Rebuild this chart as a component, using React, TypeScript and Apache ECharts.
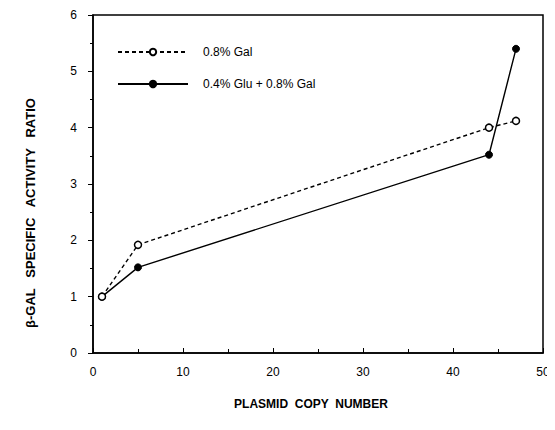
import React, { useEffect, useRef } from "react";
import * as echarts from "echarts";

const seriesNames = ["0.8% Gal", "0.4% Glu + 0.8% Gal"];
const copyNumbers = [1, 5, 44, 47];
const galRatio = [1.0, 1.92, 4.0, 4.12];
const gluGalRatio = [1.0, 1.52, 3.52, 5.4];
const xTitle = "PLASMID  COPY  NUMBER";
const yTitle = "β-GAL   SPECIFIC   ACTIVITY   RATIO";

const FONT = "'Liberation Sans', Arial, sans-serif";

export default function App() {
  const ref = useRef<HTMLDivElement>(null);
  useEffect(() => {
    if (!ref.current) return;
    const chart = echarts.init(ref.current, undefined, { renderer: "svg" });
    const toPairs = (ys: number[]) => copyNumbers.map((x, i) => [x, ys[i]]);
    chart.setOption({
      animation: false,
      backgroundColor: "#fff",
      textStyle: { fontFamily: FONT, color: "#000" },
      grid: {
        left: 93,
        right: 12,
        top: 15,
        bottom: 77,
        show: true,
        borderColor: "#000",
        borderWidth: 1.5,
        backgroundColor: "transparent",
      },
      graphic: [
        {
          type: "text",
          x: 30,
          y: 213,
          rotation: Math.PI / 2,
          style: {
            text: yTitle,
            fontFamily: FONT,
            fontSize: 13,
            fontWeight: "bold",
            fill: "#000",
            align: "center",
            verticalAlign: "middle",
          },
        },
      ],
      legend: {
        orient: "vertical",
        left: 112,
        top: 41,
        itemWidth: 70,
        itemHeight: 8,
        itemGap: 20,
        textStyle: { fontFamily: FONT, fontSize: 12, color: "#000", padding: [0, 0, 0, 10] },
        data: seriesNames,
      },
      xAxis: {
        type: "value",
        min: 0,
        max: 50,
        interval: 10,
        name: xTitle,
        nameLocation: "middle",
        nameGap: 45,
        nameTextStyle: { fontFamily: FONT, fontSize: 12, fontWeight: "bold", color: "#000", padding: [0, 14, 0, 0] },
        axisLine: { show: true, lineStyle: { color: "#000", width: 1.5 } },
        axisTick: { show: true, inside: true, length: 5, lineStyle: { color: "#000" } },
        minorTick: { show: true, splitNumber: 2, length: 4, lineStyle: { color: "#000" } },
        splitLine: { show: false },
        axisLabel: { margin: 13, fontSize: 12, color: "#000", fontFamily: FONT },
      },
      yAxis: {
        type: "value",
        min: 0,
        max: 6,
        interval: 1,
        axisLine: { show: true, lineStyle: { color: "#000", width: 1.5 } },
        axisTick: { show: true, inside: false, length: 5, lineStyle: { color: "#000" } },
        minorTick: { show: true, splitNumber: 2, length: 3, lineStyle: { color: "#000" } },
        splitLine: { show: false },
        axisLabel: { margin: 16, fontSize: 12, color: "#000", fontFamily: FONT },
      },
      series: [
        {
          name: seriesNames[0],
          type: "line",
          data: toPairs(galRatio),
          symbol: "circle",
          symbolSize: 7,
          showAllSymbol: true,
          lineStyle: { color: "#000", width: 1.4, type: [4, 3] },
          itemStyle: { color: "#fff", borderColor: "#000", borderWidth: 1.5 },
          z: 3,
        },
        {
          name: seriesNames[1],
          type: "line",
          data: toPairs(gluGalRatio),
          symbol: "circle",
          symbolSize: 7,
          lineStyle: { color: "#000", width: 1.4, type: "solid" },
          itemStyle: { color: "#000", borderColor: "#000", borderWidth: 1 },
          z: 2,
        },
      ],
    });
    return () => chart.dispose();
  }, []);
  return <div ref={ref} style={{ width: 555, height: 430, margin: -8 }} />;
}
